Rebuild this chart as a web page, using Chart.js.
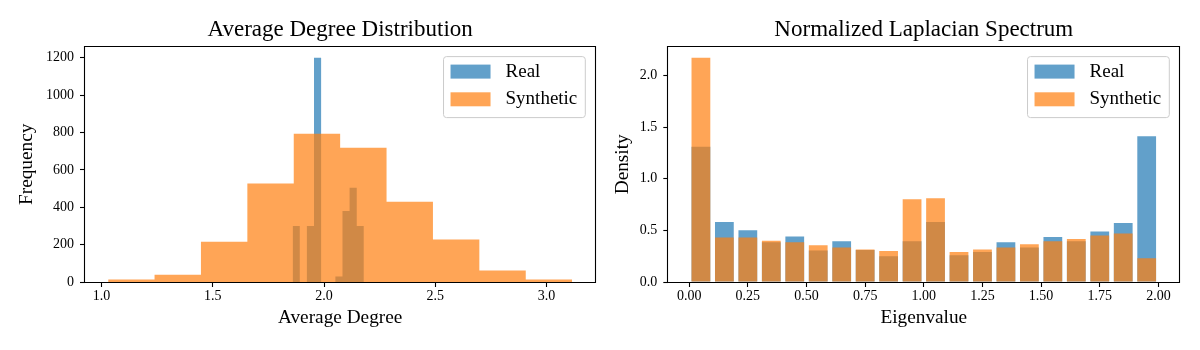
<!DOCTYPE html>
<html>
<head>
<meta charset="utf-8">
<script src="https://cdn.jsdelivr.net/npm/chart.js@4/dist/chart.umd.min.js"></script>
<style>
html,body{margin:0;padding:0;background:#fff;}
#wrap{position:relative;width:1200px;height:350px;overflow:hidden;background:#fff;}
canvas{position:absolute;top:0;}
</style>
</head>
<body>
<div id="wrap">
<canvas id="c1" width="600" height="350" style="left:0px"></canvas>
<canvas id="c2" width="600" height="350" style="left:600px"></canvas>
</div>
<script>
// ---------- DATA ----------
const seriesNames = ['Real', 'Synthetic'];

// Average degree histogram (bin edges + counts)
const degRealEdges   = [1.859, 1.891, 1.923, 1.955, 1.987, 2.019, 2.051, 2.083, 2.115, 2.147, 2.179];
const degRealCounts  = [300, 0, 300, 1200, 0, 0, 30, 380, 505, 300];
const degSynthEdges  = [1.030, 1.2385, 1.447, 1.6555, 1.864, 2.0725, 2.281, 2.4895, 2.698, 2.9065, 3.115];
const degSynthCounts = [14, 39, 216, 527, 793, 719, 430, 227, 62, 14];
const degXTicks      = [1.0, 1.5, 2.0, 2.5, 3.0];
const degXTickLabels = ['1.0', '1.5', '2.0', '2.5', '3.0'];
const degYTicks      = [0, 200, 400, 600, 800, 1000, 1200];
const degYTickLabels = ['0', '200', '400', '600', '800', '1000', '1200'];

// Normalized Laplacian spectrum (bin centres + densities)
const specCenters = [0.05, 0.15, 0.25, 0.35, 0.45, 0.55, 0.65, 0.75, 0.85, 0.95,
                     1.05, 1.15, 1.25, 1.35, 1.45, 1.55, 1.65, 1.75, 1.85, 1.95];
const specReal  = [1.31, 0.58, 0.50, 0.385, 0.44, 0.305, 0.395, 0.31, 0.25, 0.395,
                   0.58, 0.26, 0.29, 0.385, 0.335, 0.435, 0.395, 0.49, 0.57, 1.41];
const specSynth = [2.17, 0.43, 0.43, 0.40, 0.385, 0.355, 0.335, 0.315, 0.30, 0.80,
                   0.81, 0.29, 0.315, 0.335, 0.365, 0.395, 0.415, 0.45, 0.47, 0.23];
const specXTicks      = [0, 0.25, 0.5, 0.75, 1.0, 1.25, 1.5, 1.75, 2.0];
const specXTickLabels = ['0.00', '0.25', '0.50', '0.75', '1.00', '1.25', '1.50', '1.75', '2.00'];
const specYTicks      = [0, 0.5, 1.0, 1.5, 2.0];
const specYTickLabels = ['0.0', '0.5', '1.0', '1.5', '2.0'];

// ---------- STYLE ----------
const FONT = "'Liberation Serif','Times New Roman',serif";
const REAL_COLOR  = 'rgba(31,119,180,0.7)';
const SYNTH_COLOR = 'rgba(255,127,14,0.7)';

Chart.defaults.font.family = FONT;
Chart.defaults.color = '#000';

const frameLegend = {
  id: 'frameLegend',
  afterDatasetsDraw(chart) {
    const ctx = chart.ctx, a = chart.chartArea;
    ctx.save();
    // spines
    ctx.strokeStyle = '#000';
    ctx.lineWidth = 1.1;
    const l = Math.round(a.left) - 0.5, r = Math.round(a.right) + 0.5;
    const t = Math.round(a.top) - 0.5, b = Math.round(a.bottom) + 0.5;
    ctx.beginPath();
    ctx.moveTo(l, t); ctx.lineTo(r, t); ctx.lineTo(r, b); ctx.lineTo(l, b); ctx.closePath();
    ctx.stroke();
    // legend
    const fs = 19;
    ctx.font = fs + 'px ' + FONT;
    const items = chart.data.datasets.map(d => ({ label: d.label, color: d.backgroundColor }));
    const maxW = Math.max(...items.map(i => ctx.measureText(i.label).width));
    const padL = 7, patchW = 40, patchH = 14, gap = 15, padR = 8;
    const w = padL + patchW + gap + maxW + padR;
    const h = 61;
    const x0 = a.right - 10 - w, y0 = a.top + 10;
    ctx.beginPath();
    if (ctx.roundRect) ctx.roundRect(x0, y0, w, h, 3); else ctx.rect(x0, y0, w, h);
    ctx.fillStyle = 'rgba(255,255,255,0.8)';
    ctx.fill();
    ctx.strokeStyle = '#cccccc';
    ctx.lineWidth = 1;
    ctx.stroke();
    items.forEach((it, i) => {
      const cy = y0 + 15 + i * 27.7;
      ctx.fillStyle = it.color;
      ctx.fillRect(x0 + padL, cy - patchH / 2, patchW, patchH);
      ctx.fillStyle = '#000';
      ctx.textAlign = 'left';
      ctx.textBaseline = 'middle';
      ctx.fillText(it.label, x0 + padL + patchW + gap, cy);
    });
    ctx.restore();
  }
};

function axisCommon(tickVals, tickLabels, pad) {
  return {
    afterBuildTicks: s => { s.ticks = tickVals.map(v => ({ value: v })); },
    ticks: {
      callback: (v, i) => tickLabels[i],
      font: { size: 14, family: FONT },
      color: '#000',
      padding: pad,
      autoSkip: false,
      maxRotation: 0,
      minRotation: 0
    },
    grid: { display: true, drawOnChartArea: false, drawTicks: true, tickLength: 5, tickColor: '#000', tickWidth: 1.1, offset: false },
    border: { display: false }
  };
}

function histPoints(edges, counts) {
  return edges.map((e, i) => ({ x: e, y: i < counts.length ? counts[i] : 0 }));
}

// ---------- LEFT: Average Degree Distribution ----------
new Chart(document.getElementById('c1'), {
  type: 'line',
  data: {
    datasets: [
      { label: seriesNames[0], data: histPoints(degRealEdges, degRealCounts), stepped: true, fill: 'origin',
        backgroundColor: REAL_COLOR, borderWidth: 0, borderColor: 'rgba(0,0,0,0)', pointRadius: 0, order: 1 },
      { label: seriesNames[1], data: histPoints(degSynthEdges, degSynthCounts), stepped: true, fill: 'origin',
        backgroundColor: SYNTH_COLOR, borderWidth: 0, borderColor: 'rgba(0,0,0,0)', pointRadius: 0, order: 0 }
    ]
  },
  options: {
    responsive: false, animation: false, devicePixelRatio: 1,
    events: [],
    layout: { padding: { left: 0, right: 4.7, top: 0, bottom: 0 } },
    plugins: {
      legend: { display: false },
      tooltip: { enabled: false },
      title: { display: true, text: 'Average Degree Distribution', fullSize: false, color: '#000',
               font: { size: 23, family: FONT, weight: 'normal' }, padding: { top: 16, bottom: 3 } }
    },
    scales: {
      x: Object.assign(axisCommon(degXTicks, degXTickLabels, 1), {
        type: 'linear', min: 0.926, max: 3.219, offset: false,
        afterFit: s => { s.height = 68; },
        title: { display: true, text: 'Average Degree', color: '#000', font: { size: 19.3, family: FONT }, padding: { top: 0, bottom: 20 } }
      }),
      y: Object.assign(axisCommon(degYTicks, degYTickLabels, 6), {
        type: 'linear', min: 0, max: 1260,
        afterFit: s => { s.width = 85; },
        title: { display: true, text: 'Frequency', color: '#000', font: { size: 19.3, family: FONT }, padding: { top: 15.4, bottom: 0 } }
      })
    }
  },
  plugins: [frameLegend]
});

// ---------- RIGHT: Normalized Laplacian Spectrum ----------
new Chart(document.getElementById('c2'), {
  type: 'bar',
  data: {
    datasets: [
      { label: seriesNames[0], data: specCenters.map((c, i) => ({ x: c, y: specReal[i] })),
        backgroundColor: REAL_COLOR, borderWidth: 0, grouped: false, categoryPercentage: 1, barPercentage: 0.8, order: 1 },
      { label: seriesNames[1], data: specCenters.map((c, i) => ({ x: c, y: specSynth[i] })),
        backgroundColor: SYNTH_COLOR, borderWidth: 0, grouped: false, categoryPercentage: 1, barPercentage: 0.8, order: 0 }
    ]
  },
  options: {
    responsive: false, animation: false, devicePixelRatio: 1,
    events: [],
    layout: { padding: { left: 0, right: 20.7, top: 0, bottom: 0 } },
    plugins: {
      legend: { display: false },
      tooltip: { enabled: false },
      title: { display: true, text: 'Normalized Laplacian Spectrum', fullSize: false, color: '#000',
               font: { size: 23, family: FONT, weight: 'normal' }, padding: { top: 16, bottom: 3 } }
    },
    scales: {
      x: Object.assign(axisCommon(specXTicks, specXTickLabels, 1), {
        type: 'linear', min: -0.089, max: 2.089, offset: false,
        afterFit: s => { s.height = 68; },
        title: { display: true, text: 'Eigenvalue', color: '#000', font: { size: 19.3, family: FONT }, padding: { top: 0, bottom: 20 } }
      }),
      y: Object.assign(axisCommon(specYTicks, specYTickLabels, 6), {
        type: 'linear', min: 0, max: 2.2785,
        afterFit: s => { s.width = 68.3; },
        title: { display: true, text: 'Density', color: '#000', font: { size: 19.3, family: FONT }, padding: { top: 11, bottom: 0 } }
      })
    }
  },
  plugins: [frameLegend]
});
</script>
</body>
</html>
